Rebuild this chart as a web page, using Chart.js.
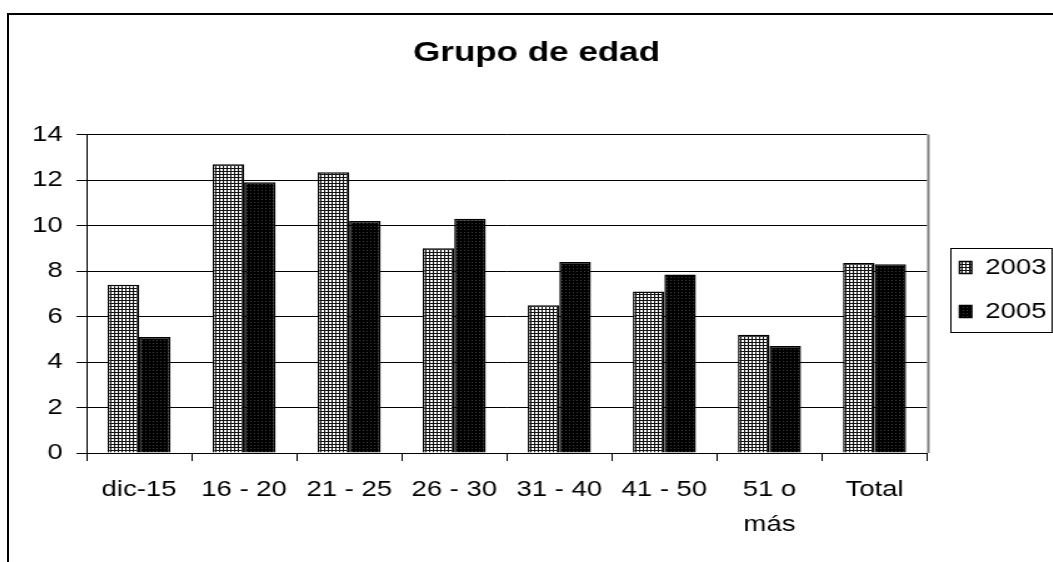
<!DOCTYPE html>
<html>
<head>
<meta charset="utf-8">
<style>
    html, body { margin:0; padding:0; background:#fff; overflow:hidden; width:1053px; height:562px; }
    #frame {
        position:absolute; left:7px; top:13px;
        width:1100px; height:600px;
        border-left:2px solid #000; border-top:2px solid #000;
    }
</style>
</head>
<body>
<div id="frame">
    <!-- drawn at 848px wide and stretched to 1060px, like the original Excel picture -->
    <canvas id="myChart" width="848" height="549" style="width:1060px;height:549px;display:block"></canvas>
</div>

<script src="https://cdn.jsdelivr.net/npm/chart.js@4.4.1/dist/chart.umd.min.js"></script>
<script>
    const labels = ['dic-15', '16 - 20', '21 - 25', '26 - 30', '31 - 40', '41 - 50', ['51 o', 'más'], 'Total'];
    const values2003 = [7.4, 12.7, 12.35, 9.0, 6.5, 7.1, 5.2, 8.35];
    const values2005 = [5.1, 11.9, 10.2, 10.3, 8.4, 7.85, 4.7, 8.3];
    const seriesNames = ['2003', '2005'];

    Chart.defaults.font.family = '"Liberation Sans", Arial, sans-serif';
    Chart.defaults.color = '#000';

    const canvas = document.getElementById('myChart');
    const ctx = canvas.getContext('2d');

    // small tiles for the Excel fill patterns
    function makePattern(w, h, bg, fg, cells) {
        const c = document.createElement('canvas');
        c.width = w; c.height = h;
        const g = c.getContext('2d');
        g.fillStyle = bg;
        g.fillRect(0, 0, w, h);
        g.fillStyle = fg;
        cells.forEach(([x, y, cw, ch]) => g.fillRect(x, y, cw, ch));
        return ctx.createPattern(c, 'repeat');
    }
    const gridFill = makePattern(3, 3, '#fff', '#111', [[0, 0, 3, 1], [0, 0, 1, 3]]);
    const dotFill = makePattern(3, 3, '#000', '#3c3c3c', [[1, 1, 1, 1]]);

    const extras = {
        id: 'extras',
        afterLayout(chart) {
            chart.legend.left += 4;
            chart.legend.right += 4;
            chart.titleBlock.left += 4;
            chart.titleBlock.right += 4;
        },
        afterDraw(chart) {
            const c = chart.ctx;
            const a = chart.chartArea;
            const lg = chart.legend;
            c.save();
            // grey right edge of the plot area
            c.strokeStyle = '#808080';
            c.lineWidth = 2;
            c.beginPath();
            c.moveTo(a.right + 1, a.top);
            c.lineTo(a.right + 1, a.bottom);
            c.stroke();
            // legend frame
            const hb = lg.legendHitBoxes;
            if (hb && hb.length) {
                const top = hb[0].top - 9;
                const bottom = hb[hb.length - 1].top + hb[hb.length - 1].height + 9;
                const left = lg.left + 22 - 7;
                c.strokeStyle = '#000';
                c.lineWidth = 1;
                c.strokeRect(Math.round(left) + 0.5, Math.round(top) + 0.5, 834 - Math.round(left), Math.round(bottom - top));
            }
            c.restore();
        }
    };

    new Chart(ctx, {
        type: 'bar',
        data: {
            labels: labels,
            datasets: [{
                label: seriesNames[0],
                data: values2003,
                backgroundColor: gridFill,
                borderColor: '#000',
                borderWidth: 1.5,
                categoryPercentage: 0.6,
                barPercentage: 1.0
            }, {
                label: seriesNames[1],
                data: values2005,
                backgroundColor: dotFill,
                borderColor: '#000',
                borderWidth: 1.5,
                categoryPercentage: 0.6,
                barPercentage: 1.0
            }]
        },
        options: {
            responsive: false,
            maintainAspectRatio: false,
            animation: false,
            devicePixelRatio: 1,
            layout: { padding: { left: 0, right: 12, top: 0, bottom: 0 } },
            plugins: {
                title: {
                    display: true,
                    text: 'Grupo de edad',
                    color: '#000',
                    font: { size: 28, weight: 'bold' },
                    padding: { top: 21, bottom: 65 }
                },
                legend: {
                    position: 'right',
                    labels: {
                        boxWidth: 9.6,
                        boxHeight: 12,
                        padding: 22,
                        color: '#000',
                        font: { size: 22 }
                    }
                },
                tooltip: { enabled: false }
            },
            scales: {
                x: {
                    afterFit(s) { s.height = 111; },
                    grid: {
                        display: true,
                        offset: true,
                        drawOnChartArea: false,
                        drawTicks: true,
                        tickLength: 8,
                        color: '#000'
                    },
                    border: { color: '#000', width: 1 },
                    ticks: {
                        color: '#000',
                        font: { size: 22, lineHeight: 1.6 },
                        padding: 11,
                        maxRotation: 0,
                        autoSkip: false
                    }
                },
                y: {
                    min: 0,
                    max: 14,
                    afterFit(s) { s.width = 62; },
                    grid: {
                        color: '#000',
                        lineWidth: 1,
                        tickLength: 8
                    },
                    border: { color: '#000', width: 1 },
                    ticks: {
                        stepSize: 2,
                        color: '#000',
                        font: { size: 22 },
                        padding: 11
                    }
                }
            }
        },
        plugins: [extras]
    });
</script>
</body>
</html>
